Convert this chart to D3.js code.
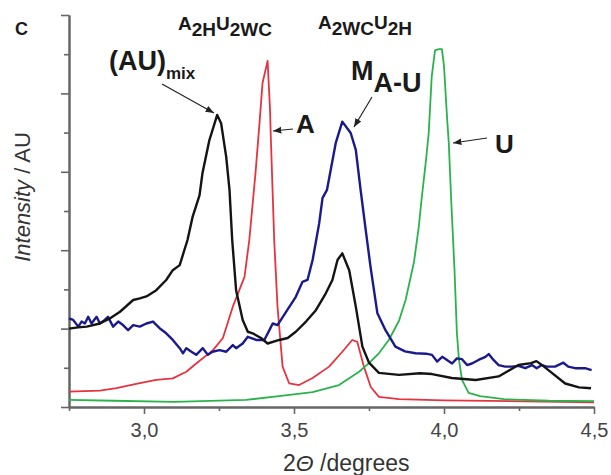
<!DOCTYPE html>
<html>
<head>
<meta charset="utf-8">
<script src="https://cdn.jsdelivr.net/npm/d3@7"></script>
<style>
  body { margin: 0; background: #fff; }
  svg { display: block; }
  .lbl { font-family: "Liberation Sans", Arial, sans-serif; font-weight: bold; fill: #1a1a1a; }
  .axis text { font-family: "Liberation Sans", Arial, sans-serif; }
</style>
</head>
<body>
<div id="viz"></div>
<script>
// 2-theta positions and intensities (arbitrary units)
var mixX = [2.75, 2.78, 2.809, 2.853, 2.886, 2.92, 2.964, 2.986, 3.008, 3.041, 3.074, 3.096, 3.119, 3.145, 3.162, 3.185, 3.195, 3.218, 3.244, 3.257, 3.274, 3.285, 3.294, 3.307, 3.329, 3.346, 3.362, 3.39, 3.412, 3.451, 3.479, 3.506, 3.54, 3.573, 3.606, 3.628, 3.645, 3.661, 3.684, 3.706, 3.728, 3.75, 3.783, 3.85, 3.92, 3.96, 4.026, 4.106, 4.182, 4.248, 4.29, 4.308, 4.325, 4.348, 4.404, 4.45, 4.49];
var mixY = [2.0, 2.03, 2.05, 2.13, 2.26, 2.43, 2.73, 2.77, 2.82, 2.98, 3.24, 3.49, 3.62, 4.26, 4.85, 5.4, 5.97, 6.81, 7.45, 7.24, 6.38, 5.54, 4.26, 2.98, 2.22, 1.92, 1.88, 1.76, 1.62, 1.71, 1.76, 1.92, 2.18, 2.47, 2.9, 3.24, 3.75, 3.92, 3.49, 2.56, 1.54, 1.13, 0.87, 0.82, 0.86, 0.84, 0.74, 0.69, 0.78, 1.07, 1.12, 1.17, 1.08, 0.94, 0.6, 0.5, 0.48];

var aX = [2.75, 2.853, 2.908, 2.986, 3.041, 3.096, 3.141, 3.174, 3.23, 3.263, 3.296, 3.335, 3.351, 3.372, 3.385, 3.395, 3.412, 3.42, 3.423, 3.434, 3.445, 3.462, 3.484, 3.517, 3.562, 3.617, 3.661, 3.694, 3.711, 3.733, 3.756, 3.783, 3.85, 4.0, 4.5];
var aY = [0.39, 0.42, 0.48, 0.61, 0.69, 0.73, 0.9, 1.11, 1.45, 1.76, 2.56, 3.32, 4.26, 6.0, 7.24, 8.26, 8.83, 7.6, 6.81, 4.26, 2.56, 1.03, 0.6, 0.56, 0.74, 1.03, 1.41, 1.71, 1.66, 1.03, 0.51, 0.26, 0.2, 0.17, 0.12];

var uX = [2.75, 2.9, 3.1, 3.34, 3.45, 3.562, 3.65, 3.717, 3.75, 3.783, 3.816, 3.85, 3.872, 3.9, 3.916, 3.925, 3.94, 3.949, 3.959, 3.97, 3.983, 3.993, 4.0, 4.01, 4.016, 4.024, 4.035, 4.043, 4.05, 4.06, 4.082, 4.12, 4.2, 4.35, 4.5];
var uY = [0.18, 0.16, 0.13, 0.18, 0.28, 0.38, 0.56, 0.9, 1.12, 1.37, 1.71, 2.2, 2.73, 3.7, 4.6, 5.28, 6.3, 6.99, 8.42, 9.1, 9.13, 9.13, 8.7, 7.4, 6.73, 5.28, 3.5, 1.88, 1.2, 0.69, 0.36, 0.28, 0.2, 0.16, 0.15];

var mauX = [2.75, 2.764, 2.781, 2.792, 2.803, 2.814, 2.825, 2.842, 2.853, 2.869, 2.88, 2.897, 2.914, 2.93, 2.947, 2.964, 2.986, 3.008, 3.03, 3.052, 3.074, 3.096, 3.119, 3.13, 3.141, 3.158, 3.174, 3.196, 3.213, 3.228, 3.252, 3.274, 3.296, 3.307, 3.329, 3.346, 3.374, 3.401, 3.418, 3.429, 3.445, 3.473, 3.506, 3.528, 3.545, 3.562, 3.574, 3.584, 3.595, 3.61, 3.639, 3.661, 3.689, 3.706, 3.722, 3.739, 3.755, 3.778, 3.805, 3.838, 3.87, 3.905, 3.94, 3.96, 3.977, 3.994, 4.01, 4.027, 4.043, 4.06, 4.077, 4.093, 4.115, 4.138, 4.149, 4.165, 4.182, 4.204, 4.226, 4.248, 4.271, 4.293, 4.309, 4.326, 4.342, 4.37, 4.398, 4.414, 4.437, 4.47, 4.492];
var mauY = [2.26, 2.22, 2.05, 2.18, 2.13, 2.3, 2.13, 2.3, 2.13, 2.22, 2.3, 2.05, 2.18, 2.09, 1.96, 2.09, 2.05, 2.13, 2.18, 2.01, 1.88, 1.71, 1.5, 1.37, 1.5, 1.41, 1.33, 1.5, 1.33, 1.41, 1.45, 1.41, 1.58, 1.5, 1.62, 1.79, 1.71, 1.71, 1.96, 2.13, 2.09, 2.42, 2.81, 3.19, 3.24, 3.75, 4.26, 4.69, 5.33, 5.54, 6.73, 7.28, 6.99, 6.56, 5.54, 4.52, 3.58, 2.39, 1.96, 1.54, 1.42, 1.37, 1.36, 1.33, 1.16, 1.28, 1.2, 1.11, 1.24, 1.22, 1.07, 1.11, 1.2, 1.28, 1.35, 1.2, 1.07, 1.03, 1.03, 1.05, 0.99, 1.07, 0.99, 1.07, 1.03, 1.03, 1.13, 1.03, 0.99, 0.99, 0.94];

var xMajor = [3.0, 3.5, 4.0, 4.5],
    xMinor = [2.75, 3.25, 3.75, 4.25],
    yMajor = [0, 2, 4, 6, 8, 10],
    yMinor = [1, 3, 5, 7, 9];

var series = [
  {name: "A",   xs: aX,   ys: aY,   color: "#e5343f", width: 1.8},
  {name: "U",   xs: uX,   ys: uY,   color: "#2bb34b", width: 1.8},
  {name: "MAU", xs: mauX, ys: mauY, color: "#1b1a8c", width: 2.4},
  {name: "mix", xs: mixX, ys: mixY, color: "#141414", width: 2.4}
];

var width = 611, height = 475;

var svg = d3.select("#viz").append("svg")
            .attr("width", width)
            .attr("height", height);

var x = d3.scaleLinear().domain([2.75, 4.5]).range([69, 594]),
    y = d3.scaleLinear().domain([0, 10]).range([407, 15]);

var commaFmt = d3.formatLocale({decimal: ",", thousands: ".", grouping: [3], currency: ["", ""]}).format(".1f");

// axes
var axisColor = "#666";
function styleAxis(g) {
  g.select(".domain").attr("stroke", axisColor).attr("stroke-width", 2);
  g.selectAll(".tick line").attr("stroke", axisColor).attr("stroke-width", 1.6);
}

svg.append("g").attr("class", "axis")
   .attr("transform", "translate(0,407)")
   .call(d3.axisBottom(x).tickValues(xMinor).tickSize(4).tickSizeOuter(0).tickFormat(""))
   .call(styleAxis);

svg.append("g").attr("class", "axis")
   .attr("transform", "translate(0,407)")
   .call(d3.axisBottom(x).tickValues(xMajor).tickSize(7).tickSizeOuter(0).tickPadding(9).tickFormat(commaFmt))
   .call(styleAxis)
   .selectAll("text")
   .attr("font-size", 20)
   .attr("fill", "#444");

svg.append("g").attr("class", "axis")
   .attr("transform", "translate(69,0)")
   .call(d3.axisLeft(y).tickValues(yMinor).tickSize(5).tickSizeOuter(0).tickFormat(""))
   .call(styleAxis);

svg.append("g").attr("class", "axis")
   .attr("transform", "translate(69,0)")
   .call(d3.axisLeft(y).tickValues(yMajor).tickSize(8).tickSizeOuter(0).tickFormat(""))
   .call(styleAxis);

// curves
var line = d3.line()
             .x(function(d) { return x(d[0]); })
             .y(function(d) { return y(d[1]); });

svg.selectAll("path.curve")
   .data(series)
   .enter()
   .append("path")
   .attr("class", "curve")
   .attr("fill", "none")
   .attr("stroke", function(d) { return d.color; })
   .attr("stroke-width", function(d) { return d.width; })
   .attr("stroke-linejoin", "round")
   .attr("d", function(d) { return line(d3.zip(d.xs, d.ys)); });

// axis titles
svg.append("text")
   .attr("transform", "translate(30,197) rotate(-90)")
   .attr("text-anchor", "middle")
   .attr("font-family", "Liberation Sans, Arial, sans-serif")
   .attr("font-size", 22)
   .attr("fill", "#333")
   .call(function(t) {
     t.append("tspan").attr("font-style", "italic").text("Intensity");
     t.append("tspan").text(" / AU");
   });

svg.append("text")
   .attr("x", 283).attr("y", 471)
   .attr("font-family", "Liberation Sans, Arial, sans-serif")
   .attr("font-size", 23)
   .attr("fill", "#333")
   .call(function(t) {
     t.append("tspan").text("2");
     t.append("tspan").attr("font-style", "italic").text("Θ");
     t.append("tspan").text(" /degrees");
   });

// panel letter
svg.append("text")
   .attr("class", "lbl")
   .attr("x", 15).attr("y", 35)
   .attr("font-size", 18)
   .attr("fill", "#333")
   .text("C");

// annotations
function subLabel(xp, yp, size, parts) {
  var t = svg.append("text").attr("class", "lbl")
             .attr("x", xp).attr("y", yp).attr("font-size", size);
  parts.forEach(function(p) {
    var s = t.append("tspan").text(p.t).attr("dy", p.dy || 0);
    if (p.size) s.attr("font-size", p.size);
  });
  return t;
}

subLabel(178, 30, 19, [{t: "A"}, {t: "2H", dy: 6}, {t: "U", dy: -6}, {t: "2WC", dy: 6}]);
subLabel(318, 29, 19, [{t: "A"}, {t: "2WC", dy: 6}, {t: "U", dy: -6}, {t: "2H", dy: 6}]);
subLabel(109, 70, 27, [{t: "(AU)"}, {t: "mix", dy: 9, size: 17}]);
subLabel(351, 80, 27, [{t: "M"}, {t: "A-U", dy: 12}]);
subLabel(296, 133, 26, [{t: "A"}]);
subLabel(495, 153, 26, [{t: "U"}]);

svg.append("defs").append("marker")
   .attr("id", "head")
   .attr("viewBox", "0 0 10 10")
   .attr("refX", 10).attr("refY", 5)
   .attr("markerWidth", 7).attr("markerHeight", 7)
   .attr("orient", "auto")
   .append("path")
   .attr("d", "M0,1 L10,5 L0,9 Z")
   .attr("fill", "#222");

var arrows = [
  [162, 84, 214, 113],
  [293, 129, 273, 131],
  [372, 97, 354, 127],
  [487, 138, 453, 143]
];
svg.selectAll("line.arrow")
   .data(arrows)
   .enter()
   .append("line")
   .attr("class", "arrow")
   .attr("x1", function(d) { return d[0]; })
   .attr("y1", function(d) { return d[1]; })
   .attr("x2", function(d) { return d[2]; })
   .attr("y2", function(d) { return d[3]; })
   .attr("stroke", "#222")
   .attr("stroke-width", 1.2)
   .attr("marker-end", "url(#head)");
</script>
</body>
</html>
